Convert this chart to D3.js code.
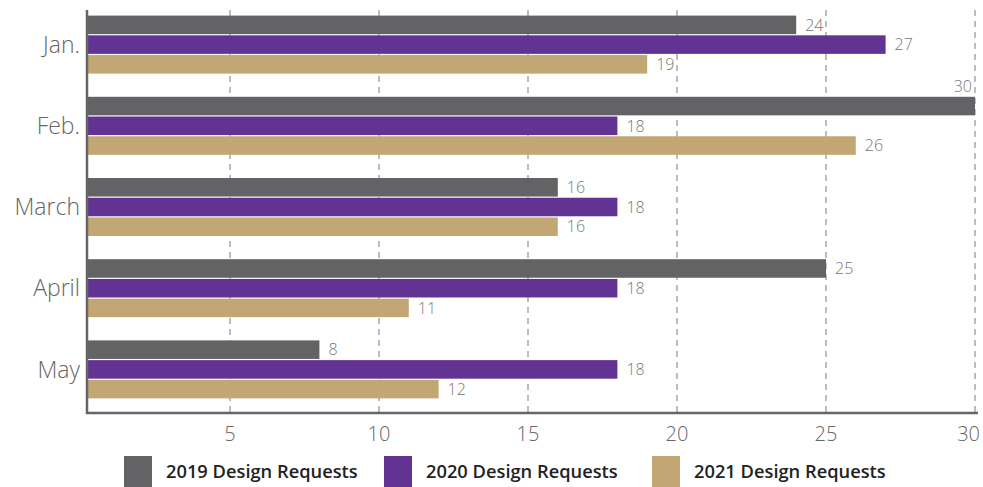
<!DOCTYPE html>
<html>
<head>
<meta charset="utf-8">
<script src="https://cdn.jsdelivr.net/npm/d3@7"></script>
<style>
  html, body { margin: 0; padding: 0; background: #fff; }
  svg { display: block; }
</style>
</head>
<body>
<svg id="chart" width="983" height="487"></svg>
<script>
// Monthly design request counts by year
const months = ["Jan.", "Feb.", "March", "April", "May"];
const series = ["2019 Design Requests", "2020 Design Requests", "2021 Design Requests"];
const requests2019 = [24, 30, 16, 25, 8];
const requests2020 = [27, 18, 18, 18, 18];
const requests2021 = [19, 26, 16, 11, 12];
const xTicks = [5, 10, 15, 20, 25, 30];
const colors = ["#636365", "#633393", "#c2a774"];

const values = [requests2019, requests2020, requests2021];
const rows = months.map((m, i) => ({ month: m, vals: values.map(v => v[i]) }));

const svg = d3.select("#chart");
const font = "'Open Sans', 'Noto Sans', sans-serif";

const axisX = 87, axisBottom = 413, plotTop = 10;
const x = d3.scaleLinear().domain([0, 30]).range([81, 975]);
const y = d3.scaleBand().domain(months).range([4, 410]);
const sub = d3.scaleBand().domain(d3.range(series.length)).range([-29, 29]).paddingInner(0.06);

// dashed vertical gridlines
svg.append("g")
  .selectAll("line")
  .data(xTicks)
  .join("line")
  .attr("x1", d => x(d)).attr("x2", d => x(d))
  .attr("y1", plotTop).attr("y2", axisBottom)
  .attr("stroke", "#9a9a9a")
  .attr("stroke-width", 1.3)
  .attr("stroke-dasharray", "6,5");

// bars
const groups = svg.append("g")
  .selectAll("g")
  .data(rows)
  .join("g")
  .attr("transform", d => `translate(0,${y(d.month) + y.bandwidth() / 2})`);

groups.selectAll("rect")
  .data(d => d.vals.map((v, k) => ({ v, k })))
  .join("rect")
  .attr("x", axisX)
  .attr("y", d => sub(d.k))
  .attr("width", d => x(d.v) - axisX)
  .attr("height", sub.bandwidth())
  .attr("fill", d => colors[d.k]);

// value labels
groups.selectAll("text")
  .data(d => d.vals.map((v, k) => ({ v, k })))
  .join("text")
  .attr("x", d => d.v >= 30 ? x(d.v) - 3 : x(d.v) + 9)
  .attr("y", d => d.v >= 30 ? sub(d.k) - 5 : sub(d.k) + sub.bandwidth() / 2)
  .attr("dy", d => d.v >= 30 ? 0 : "0.36em")
  .attr("text-anchor", d => d.v >= 30 ? "end" : "start")
  .attr("font-family", font)
  .attr("font-size", 16)
  .attr("font-weight", 300)
  .attr("fill", "#777")
  .text(d => d.v);

// category labels
svg.append("g")
  .selectAll("text")
  .data(months)
  .join("text")
  .attr("x", 80)
  .attr("y", d => y(d) + y.bandwidth() / 2)
  .attr("dy", "0.36em")
  .attr("text-anchor", "end")
  .attr("font-family", font)
  .attr("font-size", 23)
  .attr("font-weight", 300)
  .attr("fill", "#666")
  .text(d => d);

// x tick labels (the last one sits inside the right edge)
svg.append("g")
  .selectAll("text")
  .data(xTicks)
  .join("text")
  .attr("x", (d, i) => i === xTicks.length - 1 ? 980 : x(d))
  .attr("y", 441)
  .attr("text-anchor", (d, i) => i === xTicks.length - 1 ? "end" : "middle")
  .attr("font-family", font)
  .attr("font-size", 20)
  .attr("font-weight", 300)
  .attr("fill", "#666")
  .text(d => d);

// axis lines
svg.append("line")
  .attr("x1", axisX).attr("x2", axisX)
  .attr("y1", plotTop).attr("y2", axisBottom + 1)
  .attr("stroke", "#666").attr("stroke-width", 2.5);
svg.append("line")
  .attr("x1", axisX - 1).attr("x2", 978)
  .attr("y1", axisBottom).attr("y2", axisBottom)
  .attr("stroke", "#666").attr("stroke-width", 2.5);

// legend
const legendX = [124, 384, 652];
const legend = svg.append("g")
  .selectAll("g")
  .data(series)
  .join("g")
  .attr("transform", (d, i) => `translate(${legendX[i]},456)`);
legend.append("rect")
  .attr("width", 28).attr("height", 31)
  .attr("fill", (d, i) => colors[i]);
legend.append("text")
  .attr("x", 42).attr("y", 22)
  .attr("font-family", font)
  .attr("font-size", 18.3)
  .attr("font-weight", 600)
  .attr("fill", "#222")
  .text(d => d);
</script>
</body>
</html>
